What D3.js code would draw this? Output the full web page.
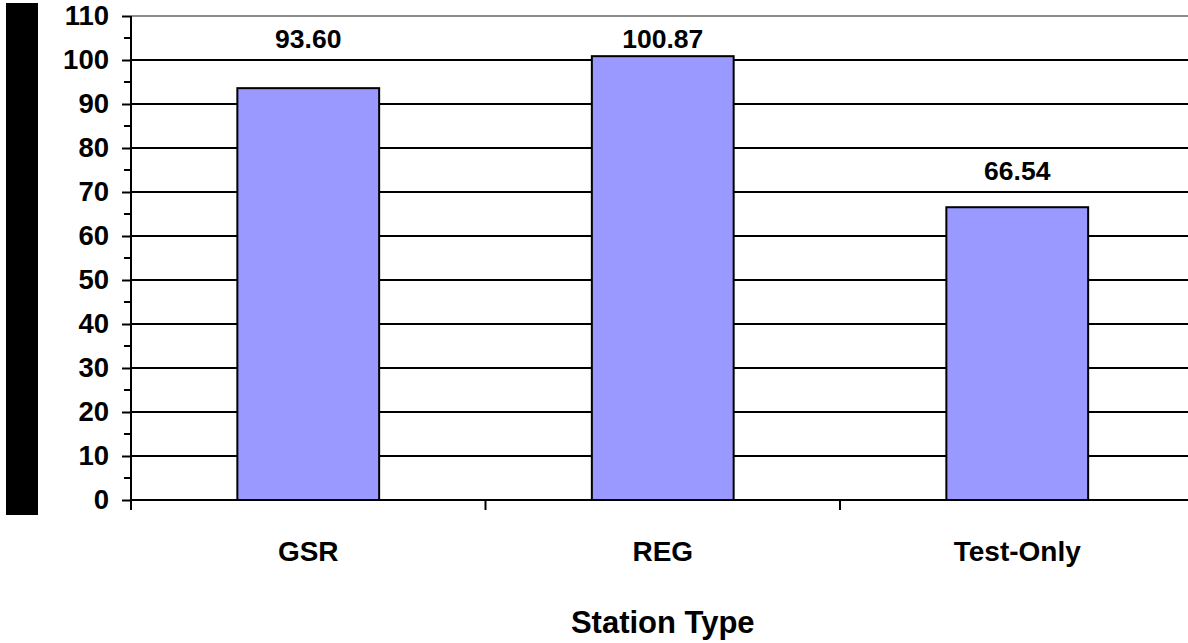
<!DOCTYPE html>
<html>
<head>
<meta charset="utf-8">
<script src="https://cdn.jsdelivr.net/npm/d3@7"></script>
<style>
  html, body { margin: 0; padding: 0; background: #fff; }
  svg { display: block; font-family: "Liberation Sans", Arial, sans-serif; font-weight: bold; }
</style>
</head>
<body>
<svg id="chart"></svg>
<script>
const categories = ["GSR", "REG", "Test-Only"]
const values = [93.6, 100.87, 66.54]
const yTicks = [0, 10, 20, 30, 40, 50, 60, 70, 80, 90, 100, 110]
const yMinorTicks = [5, 15, 25, 35, 45, 55, 65, 75, 85, 95, 105]
const xTitle = "Station Type"

const width = 1188
const height = 643
const margin = { top: 16, right: -6.5, bottom: 143, left: 131 }

const svg = d3.select("#chart").attr("width", width).attr("height", height)

// black block on the far left (y title is lost behind it in the source)
svg.append("rect")
  .attr("x", 6).attr("y", 3).attr("width", 32).attr("height", 512)
  .attr("fill", "#000")

const x = d3.scaleBand()
  .domain(categories)
  .range([margin.left, width - margin.right])
  .paddingInner(0.6)
  .paddingOuter(0.3)

const y = d3.scaleLinear()
  .domain([0, 110])
  .range([height - margin.bottom, margin.top])

// gridlines
svg.append("g")
  .selectAll("line")
  .data(yTicks.filter(d => d > 0 && d < 110))
  .join("line")
  .attr("x1", margin.left).attr("x2", width)
  .attr("y1", d => y(d)).attr("y2", d => y(d))
  .attr("stroke", "#000").attr("stroke-width", 2)

// top border
svg.append("line")
  .attr("x1", margin.left).attr("x2", width)
  .attr("y1", y(110)).attr("y2", y(110))
  .attr("stroke", "#8c8c8c").attr("stroke-width", 2)

// bars
svg.append("g")
  .selectAll("rect")
  .data(values)
  .join("rect")
  .attr("x", (d, i) => x(categories[i]))
  .attr("y", d => y(d))
  .attr("width", x.bandwidth())
  .attr("height", d => y(0) - y(d))
  .attr("fill", "#9999ff")
  .attr("stroke", "#000")
  .attr("stroke-width", 2)

// value labels sit in the grid band above the bar top
const labelBand = v => Math.min(Math.floor(v / 10) + 1, 10) * 10 + 5
svg.append("g")
  .selectAll("text")
  .data(values)
  .join("text")
  .attr("x", (d, i) => x(categories[i]) + x.bandwidth() / 2)
  .attr("y", d => y(labelBand(d)))
  .attr("dy", "0.36em")
  .attr("text-anchor", "middle")
  .attr("font-size", 26.5)
  .text(d => d.toFixed(2))

// y axis
const yAxis = svg.append("g")
  .attr("transform", `translate(${margin.left},0)`)
  .call(d3.axisLeft(y).tickValues(yTicks).tickSize(9).tickPadding(13).tickFormat(d3.format("d")))
yAxis.select(".domain").attr("stroke-width", 2).attr("d", `M0,${y(110)}V${y(0) + 10}`)
yAxis.selectAll(".tick line").attr("stroke-width", 2)
yAxis.selectAll("text").attr("font-size", 27.5).attr("font-weight", "bold").attr("font-family", "Liberation Sans, Arial, sans-serif").attr("fill", "#000")

svg.append("g")
  .selectAll("line")
  .data(yMinorTicks)
  .join("line")
  .attr("x1", margin.left - 7).attr("x2", margin.left)
  .attr("y1", d => y(d)).attr("y2", d => y(d))
  .attr("stroke", "#000").attr("stroke-width", 2)

// x axis
svg.append("line")
  .attr("x1", margin.left).attr("x2", width)
  .attr("y1", y(0)).attr("y2", y(0))
  .attr("stroke", "#000").attr("stroke-width", 2)

svg.append("g")
  .selectAll("line")
  .data(categories)
  .join("line")
  .attr("x1", d => x(d) - x.bandwidth() * 0.75)
  .attr("x2", d => x(d) - x.bandwidth() * 0.75)
  .attr("y1", y(0)).attr("y2", y(0) + 10)
  .attr("stroke", "#000").attr("stroke-width", 2)

svg.append("g")
  .selectAll("text")
  .data(categories)
  .join("text")
  .attr("x", d => x(d) + x.bandwidth() / 2)
  .attr("y", y(0) + 61)
  .attr("text-anchor", "middle")
  .attr("font-size", 28)
  .text(d => d)

svg.append("text")
  .attr("x", (margin.left + width - margin.right) / 2)
  .attr("y", y(0) + 133)
  .attr("text-anchor", "middle")
  .attr("font-size", 31)
  .text(xTitle)
</script>
</body>
</html>
